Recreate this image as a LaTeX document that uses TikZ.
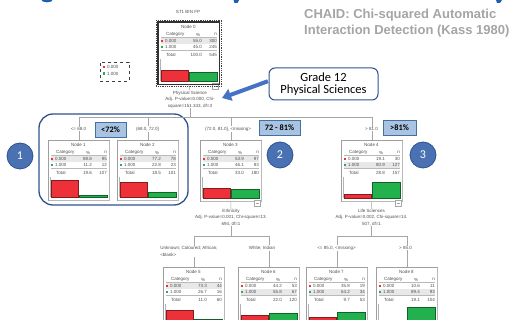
\documentclass[tikz,border=0pt]{standalone}
\usepackage{fontspec}
\setmainfont{Liberation Sans}
\newfontfamily\cali{Carlito}
\usetikzlibrary{arrows.meta}
\definecolor{barred}{HTML}{EE3138}
\definecolor{bargreen}{HTML}{23B14D}
\definecolor{frameblue}{HTML}{2F528F}
\definecolor{circblue}{HTML}{4A72B2}
\definecolor{tagblue}{HTML}{A8C4E2}
\definecolor{tagborder}{HTML}{41719C}
\definecolor{txtgrey}{HTML}{505050}
\definecolor{chaidgrey}{HTML}{A5A5A5}
\definecolor{arrowblue}{HTML}{4472C4}
\definecolor{titleblue}{HTML}{1F5FB0}
\tikzset{
  tiny/.style={font=\fontsize{4.5}{5}\selectfont, text=txtgrey, inner sep=0pt},
  conn/.style={draw=gray!70, line width=0.5},
  lbl/.style={font=\fontsize{4.5}{6.8}\selectfont, text=txtgrey, fill=white, inner sep=0.8pt, align=center},
  splittxt/.style={font=\fontsize{4.5}{6.6}\selectfont, text=txtgrey, inner sep=0pt, align=center},
  tag/.style={draw=tagborder, fill=tagblue, line width=0.7, font=\cali\bfseries\fontsize{8.3}{9}\selectfont, minimum height=15pt, inner sep=0pt},
  numcirc/.style={circle, draw=frameblue, fill=circblue, line width=0.8, minimum size=26pt, text=white, font=\cali\fontsize{12}{12}\selectfont, inner sep=0pt},
  treebox/.style={draw=gray!75, fill=white, line width=0.5, minimum width=61pt, anchor=north west, inner sep=0pt}
}
\begin{document}
\begin{tikzpicture}[x=1pt,y=-1pt]
\useasboundingbox (0,0) rectangle (509,320);
\clip (0,0) rectangle (509,320);
\fill[white] (0,0) rectangle (509,320);
% clipped title glyph fragments
\fill[titleblue] (47,0) ellipse (5.5 and 2.3);
\fill[titleblue] (233.5,0) -- (239,0) -- (237.5,3) -- (234.5,3) -- cycle;
\fill[titleblue] (496,0) -- (502,0) -- (500,3) -- (497,3) -- cycle;

% group frame for node 1 and 2
\draw[frameblue, line width=1.3, rounded corners=14pt] (39,114) rectangle (188,205);

% tree nodes
\foreach \num/\X/\Y/\H/\pA/\nA/\pB/\nB/\pT/\nT/\hl/\tg in {
 0/158/22/62/55.0/300/45.0/245/100.0/545/1/1,
 1/48/140/60/88.8/95/11.2/12/19.6/107/1/0,
 2/117/140/60/77.2/78/22.8/23/18.5/101/1/0,
 3/200/140/61/53.9/97/46.1/83/33.0/180/1/1,
 4/341/140/61/19.1/30/80.9/127/28.8/157/2/1,
 5/163/267/60/73.3/44/26.7/16/11.0/60/1/0,
 6/238/267/60/44.2/53/55.8/67/22.0/120/2/0,
 7/306/267/60/35.8/19/64.2/34/9.7/53/2/0,
 8/376/267/60/10.6/11/89.4/93/19.1/104/2/0}
{
 \pgfmathsetmacro\rh{\pA*0.19}
 \pgfmathsetmacro\gh{\pB*0.19}
 \pgfmathsetmacro\bb{\H-3}
 \pgfmathsetmacro\hy{ifthenelse(\hl==1,19,25)}
 \node[treebox, minimum height=\H*1pt] (n\num) at (\X,\Y) {};
 \begin{scope}[shift={(\X,\Y)}]
  \draw[gray!55, line width=1] (61.5,1) -- (61.5,\H+0.5) -- (1,\H+0.5);
  \fill[gray!18] (3,\hy-3) rectangle (59,\hy+3);
  \node[tiny] at (30.5,4.5) {Node \num};
  \node[tiny,anchor=west] at (8,12.5) {Category};
  \node[tiny] at (40,12.5) {\%};
  \node[tiny,anchor=east] at (59,12.5) {n};
  \draw[gray!55, line width=0.4] (3,15.5) -- (59,15.5);
  \fill[barred] (2.8,17.8) rectangle (5.2,20.2);
  \node[tiny,anchor=west] at (7,19) {0.000};
  \node[tiny,anchor=east] at (44,19) {\pA};
  \node[tiny,anchor=east] at (59,19) {\nA};
  \fill[bargreen] (2.8,23.8) rectangle (5.2,26.2);
  \node[tiny,anchor=west] at (7,25) {1.000};
  \node[tiny,anchor=east] at (44,25) {\pB};
  \node[tiny,anchor=east] at (59,25) {\nB};
  \draw[gray!55, line width=0.4] (3,28.3) -- (59,28.3);
  \node[tiny,anchor=west] at (8,33) {Total};
  \node[tiny,anchor=east] at (44,33) {\pT};
  \node[tiny,anchor=east] at (59,33) {\nT};
  \draw[gray!60, line width=0.5] (2,37) -- (2,\bb);
  \draw[barred!55!black, fill=barred, line width=0.4] (3,\bb-\rh) rectangle (30.5,\bb);
  \draw[bargreen!55!black, fill=bargreen, line width=0.4] (31.5,\bb-\gh) rectangle (59,\bb);
  \ifnum\tg=1
   \draw[gray!70, fill=white, line width=0.5] (54,\H-0.5) rectangle (60,\H+5.5);
   \draw[gray!70, line width=0.4] (55.5,\H+2.5) -- (58.5,\H+2.5);
  \fi
 \end{scope}
}
% root node emphasis
\draw[gray!40!black, line width=1.3] (n0.north west) rectangle (n0.south east);
\draw[densely dotted, gray!50!black, line width=0.8] ([shift={(-2,-2)}]n0.north west) rectangle ([shift={(2,2)}]n0.south east);
\node[tiny] (title) at (188,12) {ST1 BIN FP};

% legend
\node[draw=gray!50!black, dashed, line width=0.5, minimum width=29pt, minimum height=19pt, anchor=north west] (legend) at (100,62) {};
\fill[barred] (102.5,66) rectangle (105,68.5);
\node[tiny,anchor=west] (leg0) at (107,67.3) {0.000};
\fill[bargreen] (102.5,72.5) rectangle (105,75);
\node[tiny,anchor=west] (leg1) at (107,73.8) {1.000};

% split texts
\node[splittxt] (s0) at (190,99.5) {Physical Science\\Adj. P-value=0.000, Chi-\\square=151.343, df=3};
\node[splittxt] (s3) at (231,217.5) {Ethnicity\\Adj. P-value=0.001, Chi-square=13.\\694, df=1};
\node[splittxt] (s4) at (371.5,217.5) {Life Sciences\\Adj. P-value=0.002, Chi-square=14.\\507, df=1};

\coordinate (b0) at (190,117);
\coordinate (b3) at (231,236);
\coordinate (b4) at (371.5,236);

% connectors
\draw[conn] (n0.south) -- (s0.north);
\draw[conn] (s0.south) -- (b0);
\draw[conn] (n1.north) |- (b0);
\draw[conn] (n4.north) |- (b0);
\draw[conn] (n2.north) -- (n2.north |- b0);
\draw[conn] (n3.north) -- (n3.north |- b0);
\draw[conn] (n3.south) -- (s3.north);
\draw[conn] (s3.south) -- (b3);
\draw[conn] (n5.north) |- (b3);
\draw[conn] (n6.north) |- (b3);
\draw[conn] (n4.south) -- (s4.north);
\draw[conn] (s4.south) -- (b4);
\draw[conn] (n7.north) |- (b4);
\draw[conn] (n8.north) |- (b4);

% branch labels
\node[lbl] (l1) at (78.5,129) {<= 68.0};
\node[lbl] (l2) at (147.5,129) {(68.0, 72.0]};
\node[lbl] (l3) at (228,129) {(72.0, 81.0], <missing>};
\node[lbl] (l4) at (371.5,129) {> 81.0};
\node[lbl, align=left] (l5) at (189,251.5) {Unknown; Coloured; African;\\<blank>};
\node[lbl] (l6) at (262,248) {White; Indian};
\node[lbl] (l7) at (336.5,248) {<= 85.0, <missing>};
\node[lbl] (l8) at (405.5,248) {> 85.0};

% range tags
\node[tag, minimum width=31pt] (t1) at (110.5,129.5) {<72\%};
\node[tag, minimum width=41pt] (t2) at (279.5,127.5) {72 - 81\%};
\node[tag, minimum width=33pt] (t3) at (399.5,128) {>81\%};

% numbered circles
\node[numcirc] (c1) at (20,156) {1};
\node[numcirc] (c2) at (280,155) {2};
\node[numcirc] (c3) at (423,155) {3};

% callout
\node[draw=frameblue, fill=white, line width=1, rounded corners=6pt, minimum width=109pt, minimum height=32pt, align=center, font=\cali\fontsize{12.5}{11.5}\selectfont, inner sep=0pt] (g12) at (323.5,84) {Grade 12\\Physical Sciences};
\coordinate (tip) at (222,98);
\draw[arrowblue, line width=4, -{Triangle[width=12pt,length=9pt]}, shorten <=0.6pt] ([yshift=3pt]g12.west) -- (tip);

% caption
\node[anchor=north west, align=left, font=\bfseries\fontsize{13}{16.5}\selectfont, text=chaidgrey, inner sep=0pt] (chaid) at (304,8.5) {CHAID: Chi-squared Automatic\\Interaction Detection (Kass 1980)};
\end{tikzpicture}
\end{document}
